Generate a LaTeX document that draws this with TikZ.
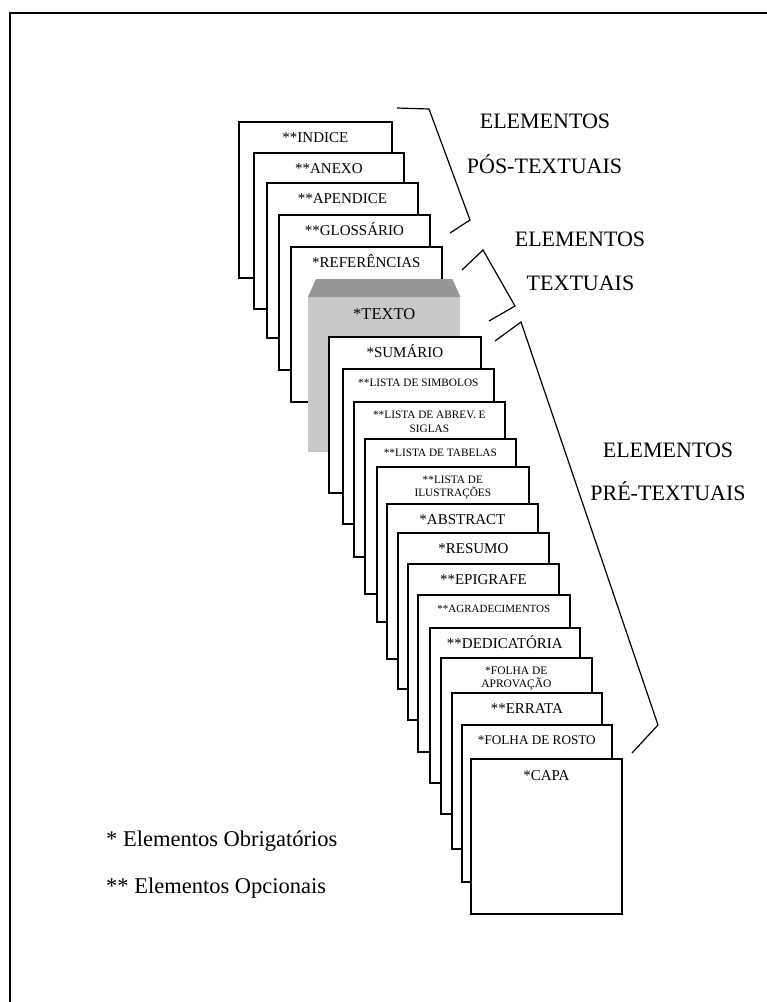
\documentclass[tikz,border=0pt]{standalone}
\usepackage{fontspec}
\setmainfont{Liberation Serif}
\definecolor{grayL}{RGB}{200,200,200}
\definecolor{grayD}{RGB}{150,150,150}
\begin{document}
\begin{tikzpicture}[x=1pt,y=-1pt,
  page/.style={draw, fill=white, line width=1.7pt, inner sep=0pt, anchor=north west},
  big/.style={font=\fontsize{15}{18}\selectfont, inner sep=0pt, anchor=base},
  small/.style={font=\fontsize{11.3}{13.5}\selectfont, inner sep=0pt, anchor=base},
  smalltwo/.style={font=\fontsize{11.3}{13.5}\selectfont, inner sep=0pt, anchor=north, align=center},
  head/.style={font=\fontsize{22}{26}\selectfont, inner sep=0pt, anchor=base},
  legend/.style={font=\fontsize{22.5}{27}\selectfont, inner sep=0pt, anchor=base west},
  bracket/.style={line width=1.2pt, line join=miter},
]
\useasboundingbox (0,0) rectangle (767,1002);
% frame
\coordinate (fbl) at (10,1002);
\coordinate (ftl) at (10,13);
\coordinate (ftr) at (767,13);
\draw[line width=1.4pt] (fbl) -- (ftl) -- (ftr);

% post-textual pages
\node[page, minimum width=153pt, minimum height=156pt] (indice) at (238,121) {};
\node[big] (indiceT) at ([yshift=-21.5pt]indice.north) {**INDICE};
\node[page, minimum width=150pt, minimum height=156pt] (anexo) at (253,152) {};
\node[big] (anexoT) at ([yshift=-21.5pt]anexo.north) {**ANEXO};
\node[page, minimum width=151pt, minimum height=155pt] (apendice) at (266,182) {};
\node[big] (apendiceT) at ([yshift=-21.5pt]apendice.north) {**APENDICE};
\node[page, minimum width=151pt, minimum height=155pt] (glossario) at (278,214) {};
\node[big] (glossarioT) at ([yshift=-21.5pt]glossario.north) {**GLOSSÁRIO};
\node[page, minimum width=151pt, minimum height=155pt] (referencias) at (290,246) {};
\node[big] (referenciasT) at ([yshift=-21.5pt]referencias.north) {*REFERÊNCIAS};

% textual (gray)
\node[fill=grayL, inner sep=0pt, anchor=north west, minimum width=152pt, minimum height=155pt] (texto) at (308,297) {};
\fill[grayD] (texto.north west) -- ([xshift=8pt,yshift=18pt]texto.north west) -- ([xshift=-8pt,yshift=18pt]texto.north east) -- (texto.north east) -- cycle;
\node[font=\fontsize{16.5}{19}\selectfont, inner sep=0pt, anchor=base] (textoT) at ([yshift=-22.5pt]texto.north) {*TEXTO};

% pre-textual pages
\node[page, minimum width=152pt, minimum height=156pt] (sumario) at (328,336) {};
\node[big] (sumarioT) at ([yshift=-21.5pt]sumario.north) {*SUMÁRIO};
\node[page, minimum width=151pt, minimum height=155pt] (simbolos) at (342,368) {};
\node[small] (simbolosT) at ([yshift=-18.7pt]simbolos.north) {**LISTA DE SIMBOLOS};
\node[page, minimum width=151pt, minimum height=155pt] (abrev) at (353,401) {};
\node[smalltwo] (abrevT) at ([yshift=-10pt]abrev.north) {**LISTA DE ABREV. E\\SIGLAS};
\node[page, minimum width=151pt, minimum height=155pt] (tabelas) at (364,438) {};
\node[small] (tabelasT) at ([yshift=-18.7pt]tabelas.north) {**LISTA DE TABELAS};
\node[page, minimum width=152pt, minimum height=155pt] (ilustr) at (376,466) {};
\node[smalltwo] (ilustrT) at ([yshift=-9.5pt]ilustr.north) {**LISTA DE\\ILUSTRAÇÕES};
\node[page, minimum width=151pt, minimum height=155pt] (abstract) at (386,503) {};
\node[big] (abstractT) at ([yshift=-21.5pt]abstract.north) {*ABSTRACT};
\node[page, minimum width=151pt, minimum height=156pt] (resumo) at (397,532) {};
\node[big] (resumoT) at ([yshift=-21.5pt]resumo.north) {*RESUMO};
\node[page, minimum width=151pt, minimum height=156pt] (epigrafe) at (407,563) {};
\node[big] (epigrafeT) at ([yshift=-21.5pt]epigrafe.north) {**EPIGRAFE};
\node[page, minimum width=152pt, minimum height=157pt] (agrad) at (417,594) {};
\node[font=\fontsize{11}{13}\selectfont, inner sep=0pt, anchor=base] (agradT) at ([yshift=-18.7pt]agrad.north) {**AGRADECIMENTOS};
\node[page, minimum width=150pt, minimum height=155pt] (dedic) at (429,627) {};
\node[big] (dedicT) at ([yshift=-21.5pt]dedic.north) {**DEDICATÓRIA};
\node[page, minimum width=151pt, minimum height=156pt] (aprov) at (440,657) {};
\node[font=\fontsize{11.5}{12.8}\selectfont, inner sep=0pt, anchor=north, align=center] (aprovT) at ([yshift=-10pt]aprov.north) {*FOLHA DE\\APROVAÇÃO};
\node[page, minimum width=150pt, minimum height=156pt] (errata) at (451,692) {};
\node[big] (errataT) at ([yshift=-21.5pt]errata.north) {**ERRATA};
\node[page, minimum width=150pt, minimum height=157pt] (rosto) at (461,724) {};
\node[font=\fontsize{13.2}{16}\selectfont, inner sep=0pt, anchor=base] (rostoT) at ([yshift=-20.4pt]rosto.north) {*FOLHA DE ROSTO};
\node[page, minimum width=151pt, minimum height=155pt] (capa) at (470,758) {};
\node[big] (capaT) at ([yshift=-22pt]capa.north) {*CAPA};

% brackets
\coordinate (b1a) at (397,108);
\coordinate (b1b) at (429,109);
\coordinate (b1c) at (470,220);
\coordinate (b1d) at (450,233);
\draw[bracket] (b1a) -- (b1b) -- (b1c) -- (b1d);
\coordinate (b2a) at (462,270);
\coordinate (b2b) at (483,250);
\coordinate (b2c) at (515,306);
\coordinate (b2d) at (489,321);
\draw[bracket] (b2a) -- (b2b) -- (b2c) -- (b2d);
\coordinate (b3a) at (495,341);
\coordinate (b3b) at (521,322);
\coordinate (b3c) at (658,725);
\coordinate (b3d) at (632,753);
\draw[bracket] (b3a) -- (b3b) -- (b3c) -- (b3d);

% headings
\node[head] (h1a) at (545,128) {ELEMENTOS};
\node[head] (h1b) at (544.5,173) {PÓS-TEXTUAIS};
\node[head] (h2a) at (580,246) {ELEMENTOS};
\node[head] (h2b) at (580.5,290) {TEXTUAIS};
\node[head] (h3a) at (668,457) {ELEMENTOS};
\node[head] (h3b) at (668,500) {PRÉ-TEXTUAIS};

% legend
\node[legend] (leg1) at (106,846) {* Elementos Obrigatórios};
\node[legend] (leg2) at (106,893) {** Elementos Opcionais};
\end{tikzpicture}
\end{document}
